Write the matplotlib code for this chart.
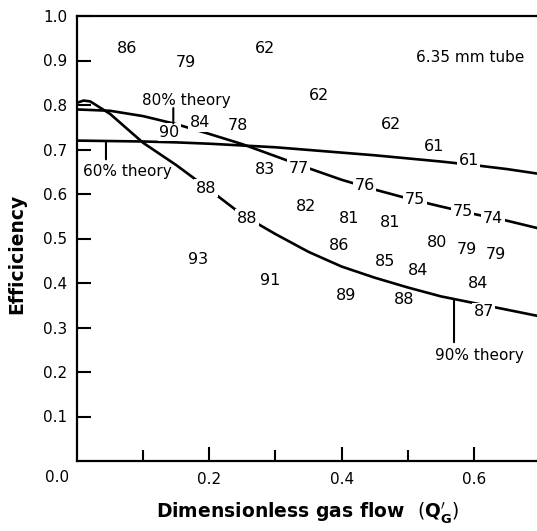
import numpy as np
import matplotlib.pyplot as plt

# Theory curves (efficiency vs dimensionless gas flow)
q_theory = [0.0, 0.05, 0.1, 0.15, 0.2, 0.25, 0.3, 0.35, 0.4, 0.45, 0.5, 0.55, 0.6, 0.65, 0.7]
eff_60 = [0.720, 0.719, 0.718, 0.716, 0.713, 0.709, 0.705, 0.699, 0.693, 0.687, 0.680, 0.673, 0.665, 0.656, 0.645]
eff_80 = [0.790, 0.787, 0.775, 0.757, 0.735, 0.712, 0.685, 0.658, 0.632, 0.610, 0.590, 0.572, 0.555, 0.540, 0.522]
q_90 = [0.0, 0.01, 0.02, 0.05, 0.1, 0.15, 0.2, 0.25, 0.3, 0.35, 0.4, 0.45, 0.5, 0.55, 0.6, 0.65, 0.7]
eff_90 = [0.805, 0.810, 0.808, 0.780, 0.715, 0.665, 0.610, 0.553, 0.510, 0.470, 0.437, 0.412, 0.390, 0.370, 0.355, 0.340, 0.325]

# Measured efficiencies (percent of theory) written at their points
pt_q = [0.076, 0.165, 0.284, 0.366, 0.475, 0.540, 0.592,
        0.186, 0.243, 0.140, 0.284, 0.335, 0.435, 0.511, 0.583, 0.629,
        0.195, 0.257, 0.346, 0.411, 0.473,
        0.183, 0.292, 0.396, 0.465, 0.515, 0.544, 0.589, 0.633,
        0.606, 0.407, 0.494, 0.615]
pt_eff = [0.928, 0.895, 0.928, 0.822, 0.757, 0.706, 0.676,
          0.760, 0.755, 0.739, 0.654, 0.658, 0.620, 0.587, 0.560, 0.544,
          0.613, 0.546, 0.573, 0.546, 0.537,
          0.452, 0.405, 0.485, 0.449, 0.429, 0.492, 0.476, 0.465,
          0.398, 0.373, 0.362, 0.335]
pt_label = ["86", "79", "62", "62", "62", "61", "61",
            "84", "78", "90", "83", "77", "76", "75", "75", "74",
            "88", "88", "82", "81", "81",
            "93", "91", "86", "85", "84", "80", "79", "79",
            "84", "89", "88", "87"]

theory_names = ["60% theory", "80% theory", "90% theory"]
name_pos = [(0.0756, 0.650), (0.1647, 0.809), (0.609, 0.238)]
pointer_q = [0.0438, 0.1456, 0.570]
pointer_end = [0.678, 0.793, 0.267]

plt.rcParams['font.family'] = 'DejaVu Sans'

fig = plt.figure(figsize=(5.37, 5.31), dpi=100)
ax = fig.add_axes([77 / 537, 70 / 531, 463 / 537, 445 / 531])

ax.plot(q_theory, eff_60, color='black', lw=1.9, zorder=2)
ax.plot(q_theory, eff_80, color='black', lw=1.9, zorder=2)
ax.plot(q_90, eff_90, color='black', lw=1.9, zorder=2)

for q, e, s in zip(pt_q, pt_eff, pt_label):
    ax.text(q, e, s, ha='center', va='center', fontsize=11.5, zorder=3,
            bbox=dict(facecolor='white', edgecolor='none', pad=1.0))

curves = [(q_theory, eff_60), (q_theory, eff_80), (q_90, eff_90)]
for name, pos, pq, pe, (cq, ce) in zip(theory_names, name_pos, pointer_q, pointer_end, curves):
    ax.text(pos[0], pos[1], name, ha='center', va='center', fontsize=11, zorder=3)
    ax.annotate('', xy=(pq, np.interp(pq, cq, ce)), xytext=(pq, pe),
                arrowprops=dict(arrowstyle='-', lw=1.5, color='black',
                                shrinkA=0, shrinkB=0))

ax.text(0.594, 0.906, "6.35 mm tube", ha='center', va='center', fontsize=11)

ax.set_xlim(0, 0.7)
ax.set_ylim(0, 1.0)
ax.set_xticks([0.2, 0.4, 0.6])
ax.set_xticklabels(["0.2", "0.4", "0.6"])
ax.set_xticks([0.1, 0.3, 0.5], minor=True)
ax.set_yticks([0.1, 0.2, 0.3, 0.4, 0.5, 0.6, 0.7, 0.8, 0.9, 1.0])
ax.set_yticklabels(["0.1", "0.2", "0.3", "0.4", "0.5", "0.6", "0.7", "0.8", "0.9", "1.0"])
ax.tick_params(axis='both', which='major', direction='in', length=10, width=1.5,
               labelsize=11)
ax.tick_params(axis='y', pad=7)
ax.tick_params(axis='x', pad=8)
ax.tick_params(axis='x', which='minor', direction='in', length=8, width=1.5)
for side in ['left', 'bottom', 'top']:
    ax.spines[side].set_linewidth(1.6)
ax.spines['right'].set_visible(False)

ax.annotate("0.0", xy=(0, 0), xytext=(-20, -17), textcoords='offset pixels',
            ha='center', va='center', fontsize=11, annotation_clip=False)

fig.text(17 / 537, 1 - 254 / 531, "Efficiciency", rotation=90, ha='center', va='center',
         fontsize=13.5, fontweight='bold')
fig.text(308 / 537, 1 - 513 / 531,
         r"Dimensionless gas flow  $(\mathbf{Q}^{\prime}_{\mathbf{G}})$",
         ha='center', va='center', fontsize=13.5, fontweight='bold')

fig.savefig("out.png", dpi=100)
